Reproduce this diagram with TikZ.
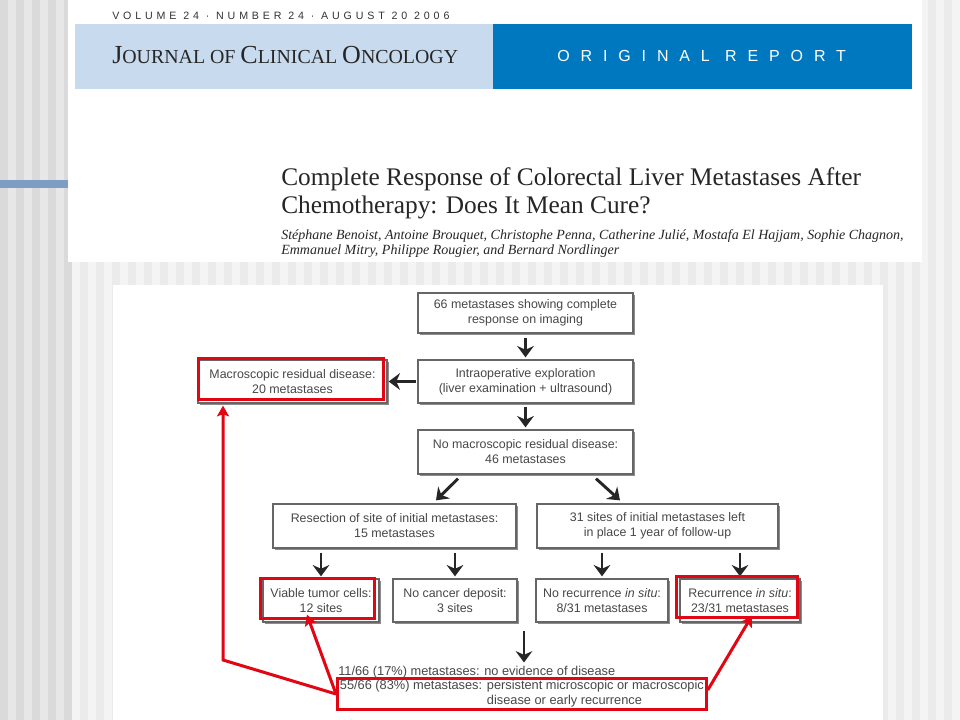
\documentclass[tikz,border=0pt]{standalone}
\usepackage{fontspec}
\setmainfont{Liberation Serif}
\setsansfont{Liberation Sans}
\usepackage{tikz}
\usetikzlibrary{calc, arrows.meta, shadows}

\definecolor{stripedark}{HTML}{DADADA}
\definecolor{stripemid}{HTML}{E7E7E7}
\definecolor{stripelight}{HTML}{F4F4F4}
\definecolor{stripesoft}{HTML}{EBEBEB}
\definecolor{bandlight}{HTML}{C8DAEE}
\definecolor{banddark}{HTML}{0078C0}
\definecolor{sidebar}{HTML}{7D9DC3}
\definecolor{boxline}{HTML}{666666}
\definecolor{boxtext}{HTML}{474747}
\definecolor{markred}{HTML}{E20613}

% 1px of the slide = 0.75pt
\tikzset{
  flowbox/.style={draw=boxline, line width=0.975pt, fill=white, text=boxtext, align=center,
    font=\sffamily\fontsize{9.3}{11.25}\selectfont, minimum height=32.25pt, inner sep=1pt,
    drop shadow={shadow xshift=1.35pt, shadow yshift=-1.35pt, fill=black!45, opacity=1}},
  flowarrow/.style={draw=black!85, line width=2.2pt, -{Stealth[length=8.5pt, width=12.5pt, inset=2.8pt]}},
  hilite/.style={draw=markred, line width=2.25pt},
  redarrow/.style={hilite, -{Stealth[length=8pt, width=9pt, inset=1.5pt]}}
}

\begin{document}
\begin{tikzpicture}[x=0.75pt, y=-0.75pt]
  \useasboundingbox (0,0) rectangle (960,720);
  % striped slide background
  \fill[stripelight] (0,0) rectangle (960,720);
  \foreach \x in {80,96,...,952}
    \fill[stripesoft] (\x,0) rectangle ++(8,720);
  \fill[stripedark] (0,0) rectangle (72,720);
  \foreach \x in {8,24,...,56}
    \fill[stripemid] (\x,0) rectangle ++(8,720);
  \fill[white] (68,0) rectangle (922,262);
  \fill[sidebar] (0,180) rectangle (68,188);
  \fill[white] (113,285) rectangle (883,720);

  % journal header
  \fill[bandlight] (75,24) rectangle (493,89);
  \fill[banddark] (493,24) rectangle (912,89);
  \node[anchor=base west, inner sep=0, text=black!80,
    font=\sffamily\fontsize{8}{9}\selectfont\addfontfeatures{LetterSpace=36}] (volume) at (112,19.5)
    {VOLUME 24 · NUMBER 24 · AUGUST 20 2006};
  \node[anchor=base west, inner sep=0, text=black!85] (journal) at (112,64)
    {\fontsize{19.5}{20}\selectfont J\fontsize{14.9}{20}\selectfont OURNAL OF
     \fontsize{19.5}{20}\selectfont C\fontsize{14.9}{20}\selectfont LINICAL
     \fontsize{19.5}{20}\selectfont O\fontsize{14.9}{20}\selectfont NCOLOGY};
  \node[anchor=base west, inner sep=0, text=white,
    font=\sffamily\fontsize{12}{14}\selectfont\addfontfeatures{LetterSpace=68}] (report) at (557,62)
    {ORIGINAL REPORT};
  \node[anchor=base west, inner sep=0, align=left, text=black!85,
    font=\fontsize{19}{21.5}\selectfont] (title) at (281,214)
    {Complete Response of Colorectal Liver Metastases After\\Chemotherapy: Does It Mean Cure?};
  \node[anchor=base west, inner sep=0, align=left, text=black!85,
    font=\itshape\fontsize{10.5}{11.25}\selectfont] (authors) at (281,255)
    {Stéphane Benoist, Antoine Brouquet, Christophe Penna, Catherine Julié, Mostafa El Hajjam, Sophie Chagnon,\\
     Emmanuel Mitry, Philippe Rougier, and Bernard Nordlinger};

  % flow chart
  \node[flowbox, minimum width=161.25pt, minimum height=30pt] (start) at (525.5,313)
    {66 metastases showing complete\\response on imaging};
  \node[flowbox, minimum width=161.25pt] (explore) at (525.5,381.5)
    {Intraoperative exploration\\(liver examination + ultrasound)};
  \node[flowbox, minimum width=141.75pt] (macro) at (292.5,381.5)
    {Macroscopic residual disease:\\20 metastases};
  \node[flowbox, minimum width=161.25pt, minimum height=33pt] (nomacro) at (525.5,452)
    {No macroscopic residual disease:\\46 metastases};
  \node[flowbox, minimum width=182.25pt, minimum height=33pt] (resect) at (394.5,526)
    {Resection of site of initial metastases:\\15 metastases};
  \node[flowbox, minimum width=180.75pt, minimum height=33pt] (leftin) at (657.5,526)
    {31 sites of initial metastases left\\in place 1 year of follow-up};
  \node[flowbox, minimum width=87pt] (viable) at (321,600.5)
    {Viable tumor cells:\\12 sites};
  \node[flowbox, minimum width=93pt] (nocancer) at (455,600.5)
    {No cancer deposit:\\3 sites};
  \node[flowbox, minimum width=99pt] (norecur) at (602,600.5)
    {No recurrence \textit{in situ}:\\8/31 metastases};
  \node[flowbox, minimum width=90pt] (recur) at (740,600.5)
    {Recurrence \textit{in situ}:\\23/31 metastases};

  \draw[flowarrow, shorten <=3pt, shorten >=1.5pt] (start) -- (explore);
  \draw[flowarrow, shorten <=0.75pt, shorten >=0.75pt] (explore) -- (macro);
  \draw[flowarrow, shorten <=2.25pt, shorten >=1.5pt] (explore) -- (nomacro);
  \draw[flowarrow] ($(nomacro.south)+(-67.5,4)$) -- ($(resect.north)+(41.5,-3)$);
  \draw[flowarrow] ($(nomacro.south)+(70.5,4)$) -- ($(leftin.north)+(-37.5,-3)$);
  \draw[flowarrow, shorten <=3pt, shorten >=1.5pt] (resect.south -| viable.north) -- (viable.north);
  \draw[flowarrow, shorten <=3pt, shorten >=1.5pt] (resect.south -| nocancer.north) -- (nocancer.north);
  \draw[flowarrow, shorten <=3pt, shorten >=1.5pt] (leftin.south -| norecur.north) -- (norecur.north);
  \draw[flowarrow, shorten <=3pt, shorten >=1.5pt] (leftin.south -| recur.north) -- (recur.north);

  \node[anchor=base west, inner sep=0, text=boxtext, font=\sffamily\fontsize{9.6}{11.25}\selectfont] (nodisease) at (338,675)
    {11/66 (17\%) metastases: no evidence of disease};
  \coordinate (join) at (524,631);
  \draw[flowarrow, shorten >=2.25pt] (join) -- (join |- nodisease.north);
  \node[hilite, anchor=west, inner xsep=1.8pt, inner ysep=0.6pt, text=boxtext,
    font=\sffamily\fontsize{9.6}{11.25}\selectfont] (persist) at (336,694)
    {\begin{tabular}{@{}l@{ }l@{}}55/66 (83\%) metastases: & persistent microscopic or macroscopic\\
      & disease or early recurrence\end{tabular}};

  % red highlights
  \draw[hilite] ($(macro.north west)+(1,-1)$) rectangle ($(macro.south east)+(-4,-4)$);
  \draw[hilite] ($(viable.north west)+(-2,0)$) rectangle ($(viable.south east)+(-5,-4)$);
  \draw[hilite] ($(recur.north west)+(-3,-2)$) rectangle ($(recur.south east)+(-3,-5)$);
  \coordinate (bendL) at (223,660);
  \draw[redarrow, shorten >=1.5pt] (persist.west) -- (bendL) -- (bendL |- macro.south);
  \draw[redarrow] (persist.west) -- ($(viable.south)+(-14,-8)$);
  \draw[redarrow] ([yshift=3pt]persist.east) -- ($(recur.south)+(12,-7)$);
\end{tikzpicture}
\end{document}
